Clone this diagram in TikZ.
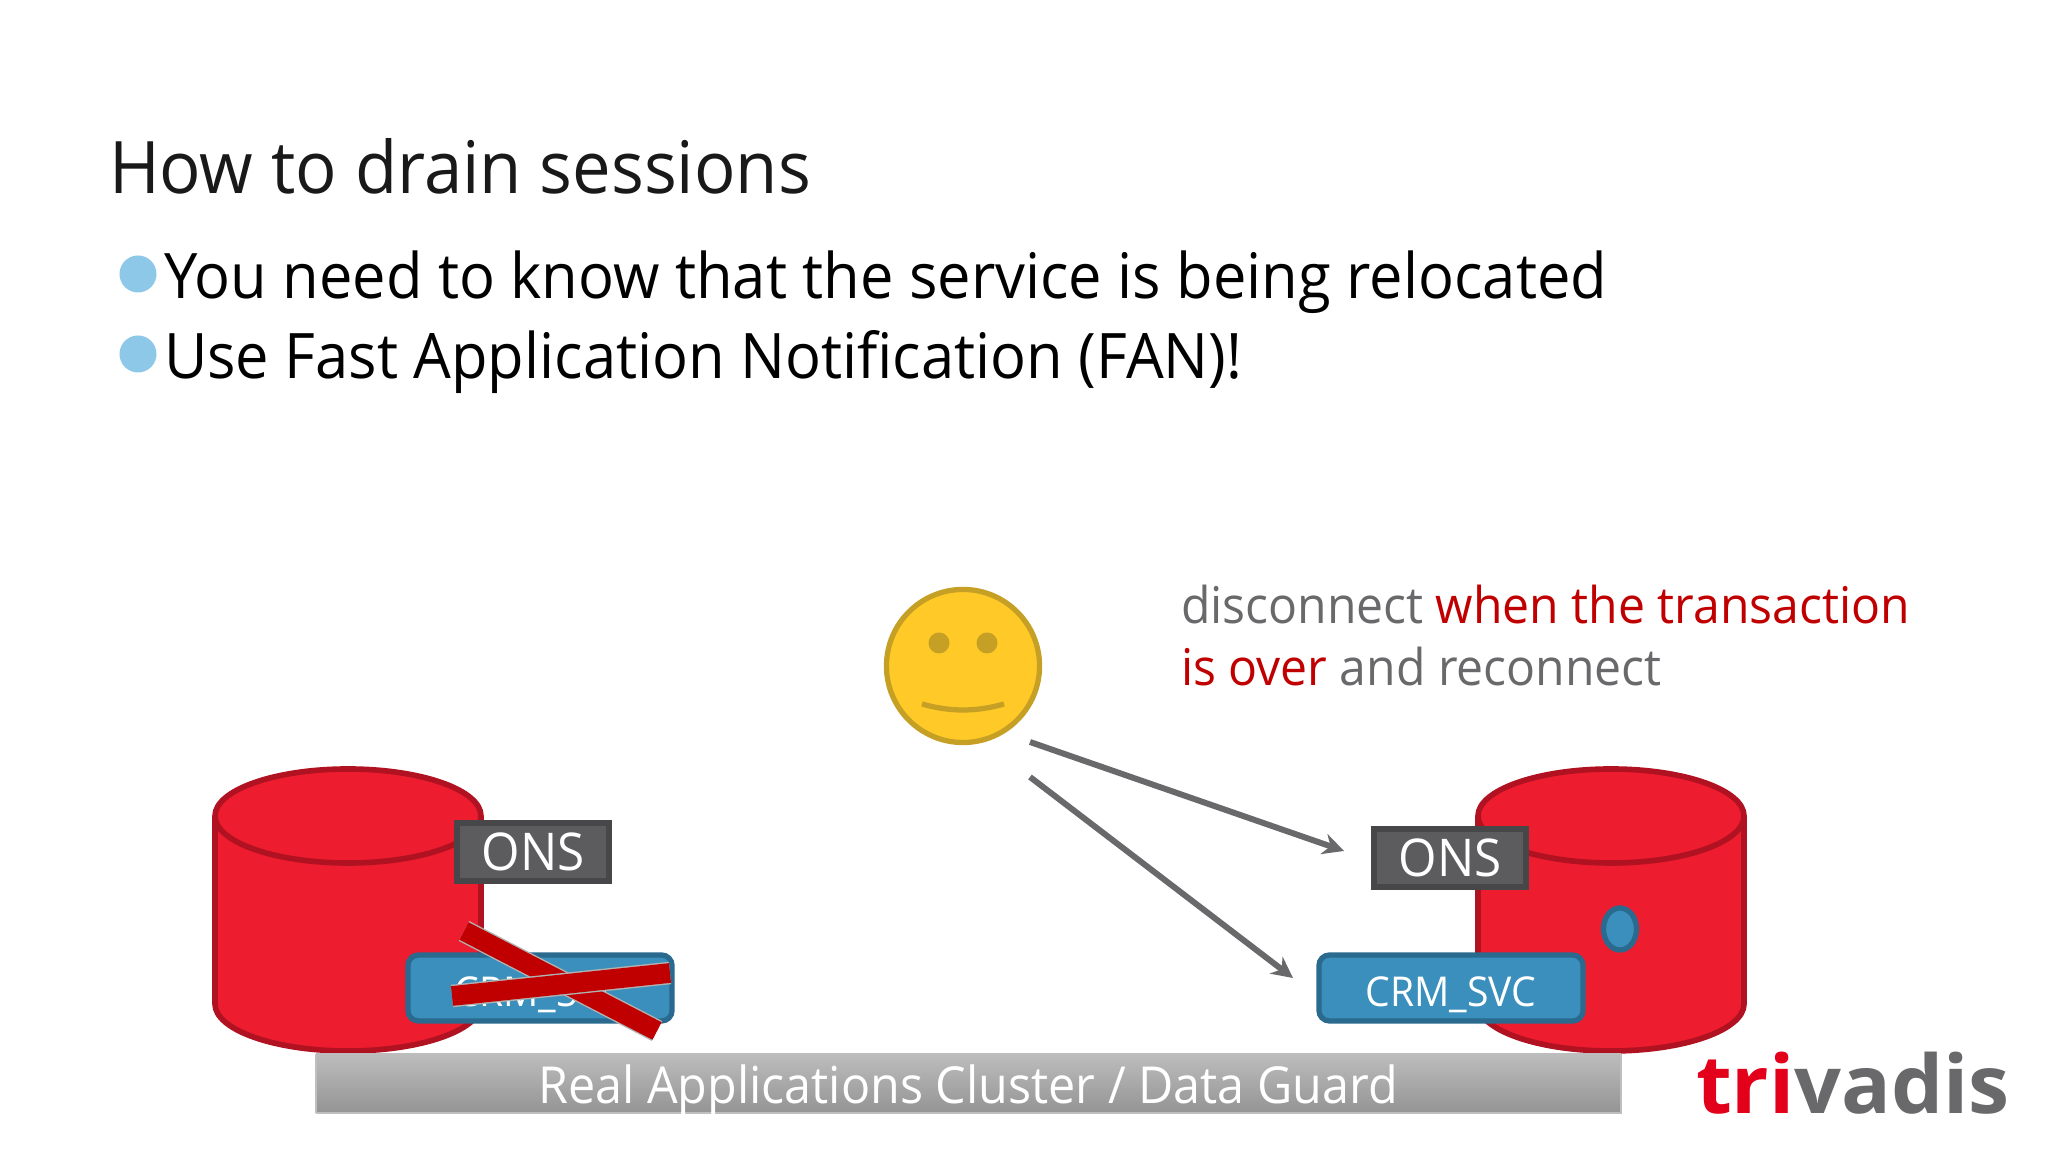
\documentclass[tikz,border=0pt]{standalone}
\usepackage{fontspec}
\usepackage{tikz}
\usetikzlibrary{arrows.meta, shapes.geometric}
\setmainfont{Open Sans}[FakeStretch=0.95]
\newfontfamily\logofont{Open Sans}[FakeStretch=1.02]
\definecolor{dbred}{HTML}{ED1C2E}
\definecolor{dbedge}{HTML}{B01222}
\definecolor{svcblue}{HTML}{3A8FBC}
\definecolor{svcedge}{HTML}{2A6A8E}
\definecolor{onsgrey}{HTML}{5C5C5E}
\definecolor{onsedge}{HTML}{474749}
\definecolor{txtgrey}{HTML}{69696B}
\definecolor{txtred}{HTML}{C00000}
\definecolor{faceyel}{HTML}{FFCA28}
\definecolor{faceedge}{HTML}{C6A024}
\definecolor{dotblue}{HTML}{8EC8E8}
\definecolor{logored}{HTML}{E2001A}
\tikzset{
  txt/.style={anchor=base west, inner sep=0pt, outer sep=0pt},
  ons/.style={draw=onsedge, fill=onsgrey, line width=1.5pt, minimum width=1.52cm, minimum height=0.58cm,
    inner sep=0pt, text=white, text depth=0pt, font=\fontsize{14.8}{16}\selectfont},
  svc/.style={draw=svcedge, fill=svcblue, line width=1.5pt, rounded corners=3pt, minimum width=2.64cm,
    minimum height=0.66cm, inner sep=0pt, text=white, text depth=0pt, font=\fontsize{11.7}{14}\selectfont},
  cyl/.style={draw=dbedge, fill=dbred, line width=1.6pt},
  barred/.style={line width=5.6pt, draw=txtred},
  link/.style={draw=txtgrey, line width=1.7pt, -{Stealth[length=6pt,width=6pt]}},
}
\begin{document}
\begin{tikzpicture}[x=0.01cm, y=0.01cm]
  \useasboundingbox (0,0) rectangle (2048,1152);
  % heading
  \node[txt, text=black!90, font=\fontsize{20.6}{22}\selectfont] (title) at (109,958) {How to drain sessions};
  \foreach \y/\n/\t/\xt in {878/a/You need to know that the service is being relocated/164, 798/b/Use Fast Application Notification (FAN)!/164} {
    \node[circle, fill=dotblue, minimum size=0.37cm, inner sep=0pt] (dot\n) at (138,\y) {};
    \node[txt, font=\fontsize{17.85}{20}\selectfont] (line\n) at (\xt,\y-25) {\t};
  }
  % databases
  \foreach \x/\n in {348/L, 1611/R} {
    \draw[cyl] (\x-133,336) -- (\x-133,148) arc (180:360:133 and 47) -- (\x+133,336) arc (0:180:133 and 47) -- cycle;
    \draw[cyl, fill=none] (\x-133,336) arc (180:360:133 and 47);
  }
  \node[draw=svcedge, fill=svcblue, ellipse, line width=1.5pt, minimum width=0.33cm, minimum height=0.42cm, inner sep=0pt] (srv) at (1620,223) {};
  % band
  \shade[top color=black!26, bottom color=black!42] (316,39) rectangle (1621,98);
  \draw[black!25, line width=0.8pt] (316,39) -- (1621,39) -- (1621,98);
  \draw[black!25, line width=0.8pt] (316,39) -- (316,98);
  \node[anchor=base, text=white, font=\fontsize{14.5}{16}\selectfont, inner sep=0pt] (band) at (968,48) {Real Applications Cluster / Data Guard};
  % services
  \node[ons] (onsL) at (533,300) {ONS};
  \node[ons] (onsR) at (1450,294) {ONS};
  \node[svc] (svcL) at (540,164) {\raisebox{-2pt}{CRM\_SVC}};
  \node[svc] (svcR) at (1451,164) {\raisebox{-2pt}{CRM\_SVC}};
  % cross
  \coordinate (c1) at (464,221);
  \coordinate (c2) at (657,121);
  \coordinate (c3) at (452,156);
  \coordinate (c4) at (670,179);
  \draw[black!30, line width=6.4pt] (c1) -- (c2);
  \draw[barred] (c1) -- (c2);
  \draw[black!30, line width=6.4pt] (c3) -- (c4);
  \draw[barred] (c3) -- (c4);
  % user
  \node[circle, draw=faceedge, fill=faceyel, line width=1.5pt, minimum size=1.53cm, inner sep=0pt] (face) at (963,486) {};
  \foreach \x/\n in {939/l, 987/r}
    \node[circle, fill=faceedge, minimum size=0.21cm, inner sep=0pt] (eye\n) at (\x,509) {};
  \draw[faceedge, line width=1.5pt] (922,448) .. controls (950,440) and (976,440) .. (1004,448);
  \coordinate (u1) at (1030,410);
  \coordinate (u2) at (1030,375);
  \coordinate (t1) at (1344,301);
  \coordinate (t2) at (1293,174);
  \draw[link] (u1) -- (t1);
  \draw[link] (u2) -- (t2);
  % note
  \node[txt, text=txtgrey, font=\fontsize{14.4}{17}\selectfont] (note1) at (1181,528) {disconnect \textcolor{txtred}{when the transaction}};
  \node[txt, text=txtgrey, font=\fontsize{14.4}{17}\selectfont] (note2) at (1181,466) {\textcolor{txtred}{is over} and reconnect};
  % logo
  \node[txt, font=\logofont\fontsize{23}{26}\bfseries\selectfont] (logo) at (1696,38) {\textcolor{logored}{tri}\textcolor{txtgrey}{vadis}};
\end{tikzpicture}
\end{document}
